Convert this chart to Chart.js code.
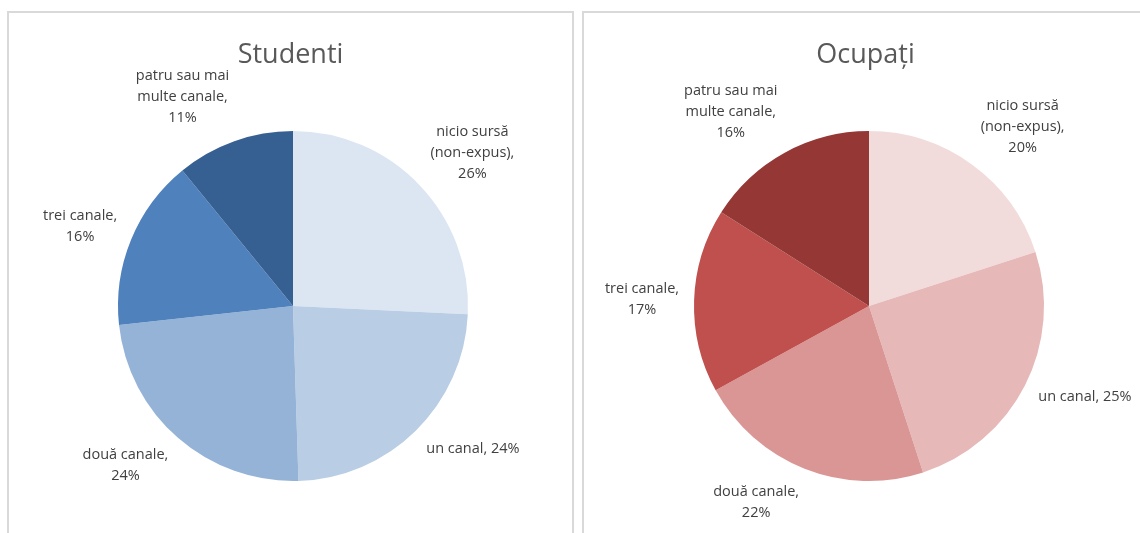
<!DOCTYPE html>
<html>
<head>
<meta charset="utf-8">
<script src="https://cdn.jsdelivr.net/npm/chart.js@4.4.1/dist/chart.umd.min.js"></script>
<style>
    html, body { margin: 0; padding: 0; background: #fff; overflow: hidden; }
    body { width: 1140px; height: 533px; position: relative; }
    .box { position: absolute; top: 11px; width: 563px; height: 540px; border: 2px solid #d9d9d9; }
    .box canvas { position: absolute; left: 0; top: 0; }
</style>
</head>
<body>
<div class="box" style="left:7px"><canvas id="chartStudenti" width="563" height="520"></canvas></div>
<div class="box" style="left:582px"><canvas id="chartOcupati" width="563" height="520"></canvas></div>

<script>
// --- Data ---
const categories = ['nicio sursă (non-expus)', 'un canal', 'două canale', 'trei canale', 'patru sau mai multe canale'];
const studentiValues = [26, 24, 24, 16, 11];
const ocupatiValues = [20, 25, 22, 17, 16];

// Theming Colors (Excel blue / red monochrome)
const blues = ['#dce6f2', '#b9cde5', '#95b3d7', '#4f81bd', '#376092'];
const reds = ['#f2dcdb', '#e6b9b8', '#d99694', '#c0504d', '#953735'];

const labelFont = "14.5px 'Open Sans', sans-serif";
const titleFont = "27px 'Open Sans', sans-serif";

// wrap text into lines no wider than maxWidth
function wrapText(ctx, text, maxWidth) {
    const words = text.split(' ');
    const lines = [];
    let line = '';
    words.forEach(w => {
        const test = line ? line + ' ' + w : w;
        if (line && ctx.measureText(test).width > maxWidth) {
            lines.push(line);
            line = w;
        } else {
            line = test;
        }
    });
    if (line) lines.push(line);
    return lines;
}

// title + outside-end data labels
const pieDecor = {
    id: 'pieDecor',
    afterDraw(chart, args, opts) {
        const ctx = chart.ctx;
        ctx.save();

        // title
        ctx.font = titleFont;
        ctx.fillStyle = '#595959';
        ctx.textAlign = 'center';
        ctx.textBaseline = 'alphabetic';
        ctx.fillText(opts.title, chart.width / 2, 50);

        // labels
        const values = chart.data.datasets[0].data;
        const total = values.reduce((a, b) => a + b, 0);
        const lineH = 21;
        ctx.font = labelFont;
        ctx.fillStyle = '#404040';
        ctx.textBaseline = 'middle';

        chart.getDatasetMeta(0).data.forEach((arc, i) => {
            const p = arc.getProps(['x', 'y', 'startAngle', 'endAngle', 'outerRadius'], true);
            const mid = (p.startAngle + p.endAngle) / 2;
            const dx = Math.cos(mid), dy = Math.sin(mid);
            const pct = Math.round(values[i] / total * 100);
            const text = `${chart.data.labels[i]}, ${values[i]}%`;
            // more room on the lower right side, so allow a wider line there
            const maxW = (dx > 0 && dy > 0) ? 130 : 105;
            const lines = wrapText(ctx, text, maxW);
            const w = Math.max(...lines.map(l => ctx.measureText(l).width));
            const h = lines.length * lineH;

            const ax = p.x + dx * (p.outerRadius + 15);
            const ay = p.y + dy * (p.outerRadius + 15);
            const cx = ax + Math.sign(dx) * w / 2;
            const cy = ay + dy * h / 2;

            lines.forEach((l, k) => {
                ctx.fillText(l, cx, cy - h / 2 + lineH / 2 + k * lineH);
            });
        });
        ctx.restore();
    }
};

function makePie(id, title, values, colorList, padRight) {
    const ctx = document.getElementById(id).getContext('2d');
    return new Chart(ctx, {
        type: 'pie',
        data: {
            labels: categories,
            datasets: [{
                data: values,
                backgroundColor: colorList,
                borderWidth: 0,
                hoverOffset: 0
            }]
        },
        options: {
            responsive: false,
            animation: false,
            devicePixelRatio: 1,
            radius: 175,
            layout: { padding: { left: padRight.left, right: padRight.right, top: 118, bottom: 52 } },
            plugins: {
                legend: { display: false },
                tooltip: { enabled: false },
                pieDecor: { title: title }
            }
        },
        plugins: [pieDecor]
    });
}

makePie('chartStudenti', 'Studenti', studentiValues, blues, { left: 109, right: 104 });
makePie('chartOcupati', 'Ocupați', ocupatiValues, reds, { left: 110, right: 103 });
</script>
</body>
</html>
